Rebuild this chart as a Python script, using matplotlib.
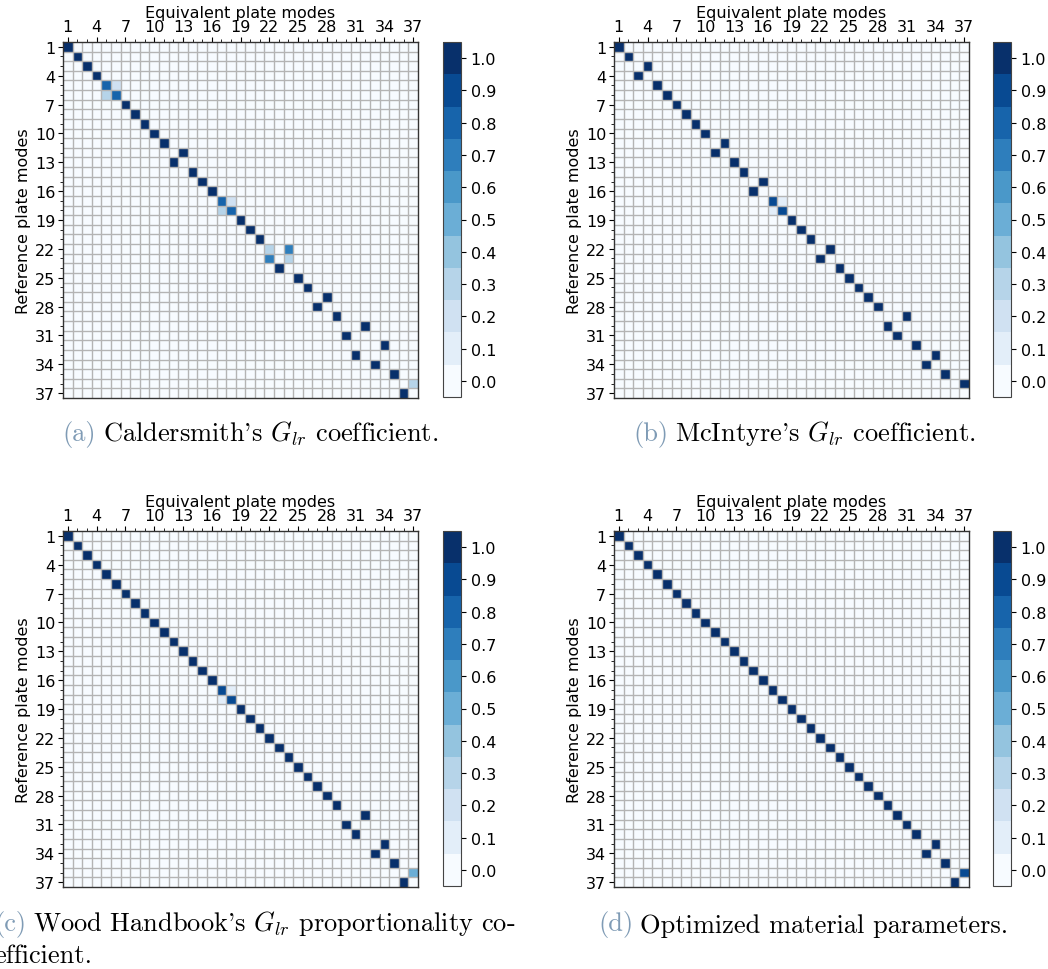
import matplotlib
matplotlib.use('Agg')
import matplotlib.pyplot as plt
import numpy as np

n_modes = 37
mode_ticks = [1, 4, 7, 10, 13, 16, 19, 22, 25, 28, 31, 34, 37]
cbar_ticks = [0.0, 0.1, 0.2, 0.3, 0.4, 0.5, 0.6, 0.7, 0.8, 0.9, 1.0]

# best matching equivalent mode for each reference mode (row 1..37), and its MAC value
cald_cols = [1, 2, 3, 4, 5, 6, 7, 8, 9, 10, 11, 13, 12, 14, 15, 16, 17, 18, 19,
             20, 21, 24, 22, 23, 25, 26, 28, 27, 29, 32, 30, 34, 31, 33, 35, 37, 36]
cald_vals = [1.0, 1.0, 1.0, 1.0, 0.8, 0.8, 1.0, 1.0, 1.0, 1.0, 1.0, 1.0, 1.0, 1.0,
             1.0, 1.0, 0.8, 0.8, 1.0, 1.0, 1.0, 0.7, 0.7, 1.0, 1.0, 1.0, 1.0, 1.0,
             1.0, 1.0, 1.0, 1.0, 1.0, 1.0, 1.0, 0.3, 1.0]
cald_extra = [(5, 6, 0.2), (6, 5, 0.3), (17, 18, 0.2), (18, 17, 0.3),
              (22, 22, 0.3), (23, 24, 0.3)]

mcin_cols = [1, 2, 4, 3, 5, 6, 7, 8, 9, 10, 12, 11, 13, 14, 16, 15, 17, 18, 19,
             20, 21, 23, 22, 24, 25, 26, 27, 28, 31, 29, 30, 32, 34, 33, 35, 37, 37]
mcin_vals = [1.0, 1.0, 1.0, 1.0, 1.0, 1.0, 1.0, 1.0, 1.0, 1.0, 1.0, 1.0, 1.0, 1.0,
             1.0, 1.0, 0.9, 0.9, 1.0, 1.0, 1.0, 1.0, 1.0, 1.0, 1.0, 1.0, 1.0, 1.0,
             1.0, 1.0, 1.0, 1.0, 1.0, 1.0, 1.0, 1.0, 0.0]
mcin_extra = [(17, 18, 0.1), (18, 17, 0.1)]

wood_cols = [1, 2, 3, 4, 5, 6, 7, 8, 9, 10, 11, 12, 13, 14, 15, 16, 17, 18, 19,
             20, 21, 22, 23, 24, 25, 26, 27, 28, 29, 32, 30, 31, 34, 33, 35, 37, 36]
wood_vals = [1.0, 1.0, 1.0, 1.0, 1.0, 1.0, 1.0, 1.0, 1.0, 1.0, 1.0, 1.0, 1.0, 1.0,
             1.0, 1.0, 0.9, 0.9, 1.0, 1.0, 1.0, 1.0, 1.0, 1.0, 1.0, 1.0, 1.0, 1.0,
             1.0, 1.0, 1.0, 1.0, 1.0, 1.0, 1.0, 0.5, 1.0]
wood_extra = [(17, 18, 0.1), (18, 17, 0.1)]

opt_cols = [1, 2, 3, 4, 5, 6, 7, 8, 9, 10, 11, 12, 13, 14, 15, 16, 17, 18, 19,
            20, 21, 22, 23, 24, 25, 26, 27, 28, 29, 30, 31, 32, 34, 33, 35, 37, 36]
opt_vals = [1.0, 1.0, 1.0, 1.0, 1.0, 1.0, 1.0, 1.0, 1.0, 1.0, 1.0, 1.0, 1.0, 1.0,
            1.0, 1.0, 1.0, 1.0, 1.0, 1.0, 1.0, 1.0, 1.0, 1.0, 1.0, 1.0, 1.0, 1.0,
            1.0, 1.0, 1.0, 1.0, 1.0, 1.0, 1.0, 0.9, 1.0]
opt_extra = []

captions = [("(a)", [r"Caldersmith's $G_{lr}$ coefficient."]),
            ("(b)", [r"McIntyre's $G_{lr}$ coefficient."]),
            ("(c)", [r"Wood Handbook's $G_{lr}$ proportionality co-", "efficient."]),
            ("(d)", ["Optimized material parameters."])]

plt.rcParams['mathtext.fontset'] = 'cm'
fs = 11.5
cap_fs = 19


def build_mac(cols, vals, extra):
    mac = np.zeros((n_modes, n_modes))
    for r, (c, v) in enumerate(zip(cols, vals)):
        mac[r, c - 1] = v
    for r, c, v in extra:
        mac[r - 1, c - 1] = v
    return mac


def draw_mac(fig, rect, cbar_rect, mac):
    ax = fig.add_axes(rect)
    cmap = plt.get_cmap('Blues', 11)
    edges_all = np.arange(0.5, n_modes + 1.5, 1.0)
    im = ax.pcolormesh(edges_all, edges_all, mac, cmap=cmap, vmin=-0.05, vmax=1.05)
    ax.set_xlim(0.5, n_modes + 0.5)
    ax.set_ylim(n_modes + 0.5, 0.5)
    # cell borders
    edges = np.arange(1.5, n_modes + 0.5, 1.0)
    ax.vlines(edges, 0.5, n_modes + 0.5, color='#b4b4b4', lw=1.0, zorder=2)
    ax.hlines(edges, 0.5, n_modes + 0.5, color='#b4b4b4', lw=1.0, zorder=2)

    ax.xaxis.tick_top()
    ax.xaxis.set_label_position('top')
    ax.set_xticks(mode_ticks)
    ax.set_yticks(mode_ticks)
    ax.set_xticks(range(1, n_modes + 1), minor=True)
    ax.set_yticks(range(1, n_modes + 1), minor=True)
    ax.tick_params(which='major', labelsize=fs, length=3.5, pad=2)
    ax.tick_params(which='minor', length=2)
    ax.set_xlabel('Equivalent plate modes', fontsize=fs, labelpad=2)
    ax.set_ylabel('Reference plate modes', fontsize=fs, labelpad=3)
    for s in ax.spines.values():
        s.set_color('#333333')
        s.set_linewidth(1.0)

    cax = fig.add_axes(cbar_rect)
    cb = fig.colorbar(im, cax=cax, ticks=cbar_ticks)
    cb.ax.tick_params(labelsize=fs, length=3.5)
    cb.outline.set_edgecolor('#444444')
    cb.ax.set_yticklabels([f'{t:.1f}' for t in cbar_ticks])
    return ax


fig = plt.figure(figsize=(10.48, 9.70), dpi=100)

W, H = 1048.0, 970.0
panels = [(build_mac(cald_cols, cald_vals, cald_extra), 63, 43, 443),
          (build_mac(mcin_cols, mcin_vals, mcin_extra), 614, 43, 993),
          (build_mac(wood_cols, wood_vals, wood_extra), 63, 532, 443),
          (build_mac(opt_cols, opt_vals, opt_extra), 614, 532, 993)]
caption_pos = [(62, 435), (633, 435), (-6, 925), (598, 925)]

for (mac, left, top, cbl), (label, lines), (cx, cy) in zip(panels, captions, caption_pos):
    rect = [left / W, 1 - (top + 356) / H, 355 / W, 356 / H]
    crect = [cbl / W, 1 - (top + 355) / H, 18 / W, 355 / H]
    ax = draw_mac(fig, rect, crect, mac)

    t1 = fig.text(cx / W, 1 - cy / H, label, color='#7f9bb5', fontsize=cap_fs,
                  family='cmr10', va='center', ha='left')
    ax.annotate(lines[0], xy=(1, 0), xycoords=t1, xytext=(5, 0),
                textcoords='offset points', fontsize=cap_fs, family='cmr10',
                va='bottom', ha='left', annotation_clip=False)
    if len(lines) > 1:
        fig.text(cx / W, 1 - (cy + 31) / H, lines[1], fontsize=cap_fs, family='cmr10',
                 va='center', ha='left')

fig.savefig('out.png', dpi=100)
